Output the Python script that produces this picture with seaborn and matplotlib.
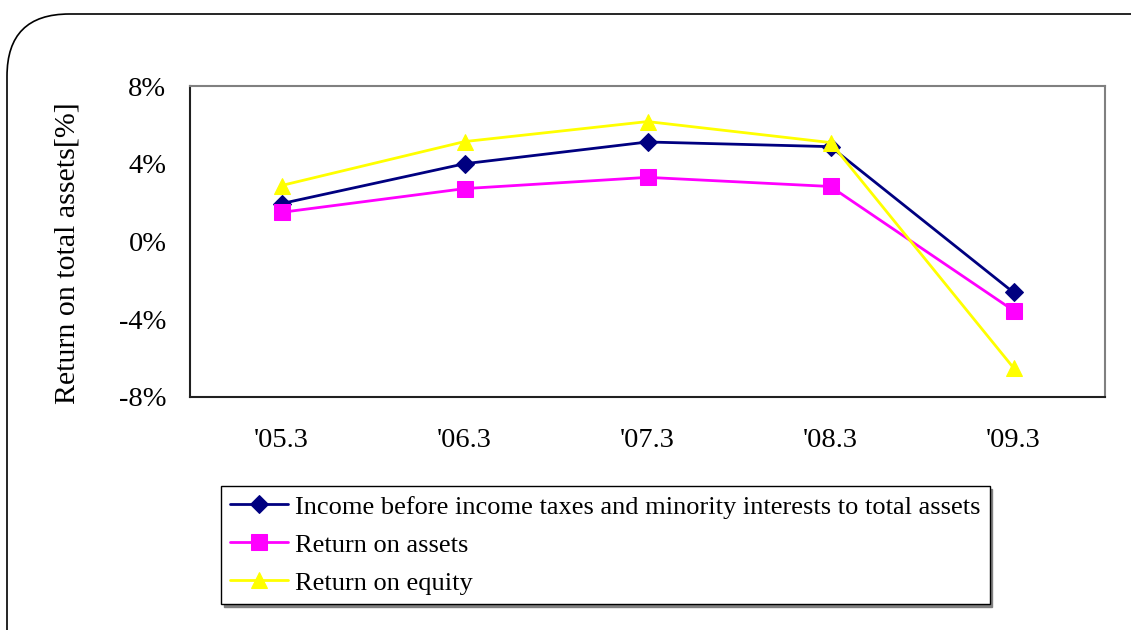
import pandas as pd
import numpy as np
import matplotlib
matplotlib.use("Agg")
import matplotlib.pyplot as plt
from matplotlib.patches import FancyBboxPatch
from matplotlib.ticker import FixedLocator, FuncFormatter
import seaborn as sns

# dữ liệu
periods = ["'05.3", "'06.3", "'07.3", "'08.3", "'09.3"]
income_before_tax = [1.95, 4.0, 5.12, 4.88, -2.62]
return_on_assets = [1.5, 2.72, 3.3, 2.83, -3.55]
return_on_equity = [2.88, 5.14, 6.17, 5.09, -6.5]

series_names = ["Income before income taxes and minority interests to total assets",
                "Return on assets",
                "Return on equity"]
colors = ["#000080", "#FF00FF", "#FFFF00"]
markers = ["D", "s", "^"]
marker_sizes = [9, 11, 12]

sns.set_style("white")
plt.rcParams['font.family'] = ['Liberation Serif', 'DejaVu Serif']
plt.rcParams['text.color'] = 'black'
plt.rcParams['axes.labelcolor'] = 'black'
plt.rcParams['xtick.color'] = 'black'
plt.rcParams['ytick.color'] = 'black'

fig = plt.figure(figsize=(11.31, 6.3), dpi=100)

# khung bo tròn quanh hình
frame = FancyBboxPatch((7 / 1131, -0.1), 1.2, (630 - 14) / 630 + 0.1,
                       boxstyle="round,pad=0,rounding_size=0.055",
                       transform=fig.transFigure, fill=False,
                       edgecolor="black", linewidth=1.2, mutation_aspect=1131 / 630)
fig.patches.append(frame)

ax = fig.add_axes([190 / 1131, 1 - 397 / 630, (1105 - 190) / 1131, (397 - 86) / 630])

x = np.arange(len(periods))
for vals, name, c, m, ms in zip([income_before_tax, return_on_assets, return_on_equity],
                                series_names, colors, markers, marker_sizes):
    sns.lineplot(x=x, y=vals, ax=ax, color=c, marker=m, markersize=ms,
                 markeredgecolor=c, linewidth=2, label=name, legend=False)

ax.set_xlim(-0.5, len(periods) - 0.5)
ax.set_ylim(-8, 8)
ax.yaxis.set_major_locator(FixedLocator([-8, -4, 0, 4, 8]))
ax.yaxis.set_major_formatter(FuncFormatter(lambda v, p: f"{v:.0f}%"))
ax.set_xticks(x)
ax.set_xticklabels(periods)
ax.set_xticks(np.arange(0.5, len(periods) - 1, 1), minor=True)
ax.tick_params(axis="x", which="major", length=0, labelsize=20.5, pad=22)
ax.tick_params(axis="x", which="minor", length=7, direction="in", color="#606060", width=1.2)
ax.tick_params(axis="y", which="major", length=7, direction="in", labelsize=20.5,
               color="#404040", width=1.2, pad=17)
ax.set_ylabel("Return on total assets[%]", fontsize=21.5)
ax.yaxis.set_label_coords(-0.12, 0.463)

for side in ["left", "bottom"]:
    ax.spines[side].set_color("#202020")
    ax.spines[side].set_linewidth(1.5)
for side in ["top", "right"]:
    ax.spines[side].set_color("#808080")
    ax.spines[side].set_linewidth(1.5)

# chú giải có bóng xám
handles, labels = ax.get_legend_handles_labels()
leg = fig.legend(handles, labels, loc="upper left",
                 bbox_to_anchor=(221 / 1131, 1 - 486 / 630),
                 frameon=True, fancybox=False, edgecolor="black", fontsize=19,
                 handlelength=2.2, handletextpad=0.25, labelspacing=0.55,
                 borderpad=0.35, borderaxespad=0,
                 shadow={"color": "gray", "alpha": 1})
leg.get_frame().set_linewidth(1.0)

fig.savefig("out.png", dpi=100)
